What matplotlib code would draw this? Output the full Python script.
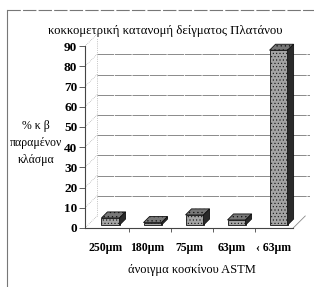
import numpy as np
import matplotlib
matplotlib.use('Agg')
import matplotlib.pyplot as plt
from matplotlib.patches import Polygon
from matplotlib.lines import Line2D

categories = ['250μm', '180μm', '75μm', '63μm', '‹ 63μm']
values = [3.5, 1.2, 5.0, 2.5, 86.5]
yticks = [0, 10, 20, 30, 40, 50, 60, 70, 80, 90]

plt.rcParams['font.family'] = ['Liberation Serif', 'DejaVu Serif']
plt.rcParams['hatch.linewidth'] = 0.4

fig = plt.figure(figsize=(3.14, 2.87), dpi=100)
ax = fig.add_axes([0.2707, 0.2056, 0.7166, 0.6899])

xmin, xmax = -0.536, 4.82
ax.set_xlim(xmin, xmax)
ax.set_ylim(0, 98)

# depth of the 3d box and of the bars (data units)
dx, dy = 0.286, 5.94
fdx, fdy = dx * 0.25, dy * 0.25
bdx, bdy = dx * 0.75, dy * 0.75
w = 0.43
floor_right = 4.42

# back wall and left wall
for v in yticks[1:-1]:
    ax.plot([xmin + dx, xmax], [v + dy, v + dy], color='#777777', lw=0.6,
            ls=(0, (20, 1)), zorder=1)
for v in yticks:
    ax.plot([xmin, xmin + dx], [v, v + dy], color='#999999', lw=0.5, ls=':', zorder=1)
ax.plot([xmin + dx, xmin + dx], [dy, 88 + dy], color='#999999', lw=0.5, ls=':', zorder=1)
ax.plot([floor_right, floor_right + dx], [0, dy], color='#888888', lw=0.6, zorder=1)

x = np.arange(len(categories))
ax.bar(x + fdx, values, bottom=fdy, width=w, color='#a4a4a4', edgecolor='#111111',
       hatch='.....', lw=0.6, zorder=3)
for c, v in zip(x, values):
    x0 = c + fdx - w / 2
    x1 = c + fdx + w / 2
    top = fdy + v
    ddx, ddy = bdx - fdx, bdy - fdy
    ax.add_patch(Polygon([(x0, top), (x1, top), (x1 + ddx, top + ddy), (x0 + ddx, top + ddy)],
                         closed=True, facecolor='#777777', edgecolor='#111111', hatch='....',
                         lw=0.6, zorder=4))
    ax.add_patch(Polygon([(x1, fdy), (x1 + ddx, fdy + ddy), (x1 + ddx, top + ddy), (x1, top)],
                         closed=True, facecolor='#2a2a2a', edgecolor='#111111', lw=0.6, zorder=4))

for s in ['top', 'right']:
    ax.spines[s].set_visible(False)
ax.spines['left'].set_bounds(0, 90)
ax.spines['bottom'].set_bounds(xmin, floor_right)
ax.spines['left'].set_color('#444444')
ax.spines['bottom'].set_color('#444444')

ax.set_yticks(yticks)
ax.set_yticklabels([str(t) for t in yticks], fontsize=9.5, fontweight='bold')
ax.tick_params(axis='y', length=4, width=0.6, pad=1.5, colors='#444444', labelcolor='black')
ax.set_xticks(x - 0.05)
ax.set_xticklabels(categories, fontsize=8.5, fontweight='bold')
ax.set_xticks(np.arange(len(categories) - 1) + 0.5, minor=True)
ax.tick_params(axis='x', which='major', length=0, pad=10)
ax.tick_params(axis='x', which='minor', length=3, width=0.6, colors='#444444')

fig.text(0.525, 0.892, 'κοκκομετρική κατανομή δείγματος Πλατάνου', ha='center', va='center',
         fontsize=9.2)
fig.text(0.114, 0.502, '% κ β\nπαραμένον\nκλάσμα', ha='center', va='center', fontsize=8.5,
         linespacing=1.6)
fig.text(0.61, 0.06, 'άνοιγμα κοσκίνου ASTM', ha='center', va='center', fontsize=9)

# scanned frame
fig.add_artist(Line2D([0.022, 1.0], [0.965, 0.965], transform=fig.transFigure,
                      color='#777777', lw=0.8, ls=(0, (12, 2))))
fig.add_artist(Line2D([0.022, 0.022], [0.0, 0.965], transform=fig.transFigure,
                      color='#777777', lw=0.8))

fig.savefig('out.png', dpi=100)
